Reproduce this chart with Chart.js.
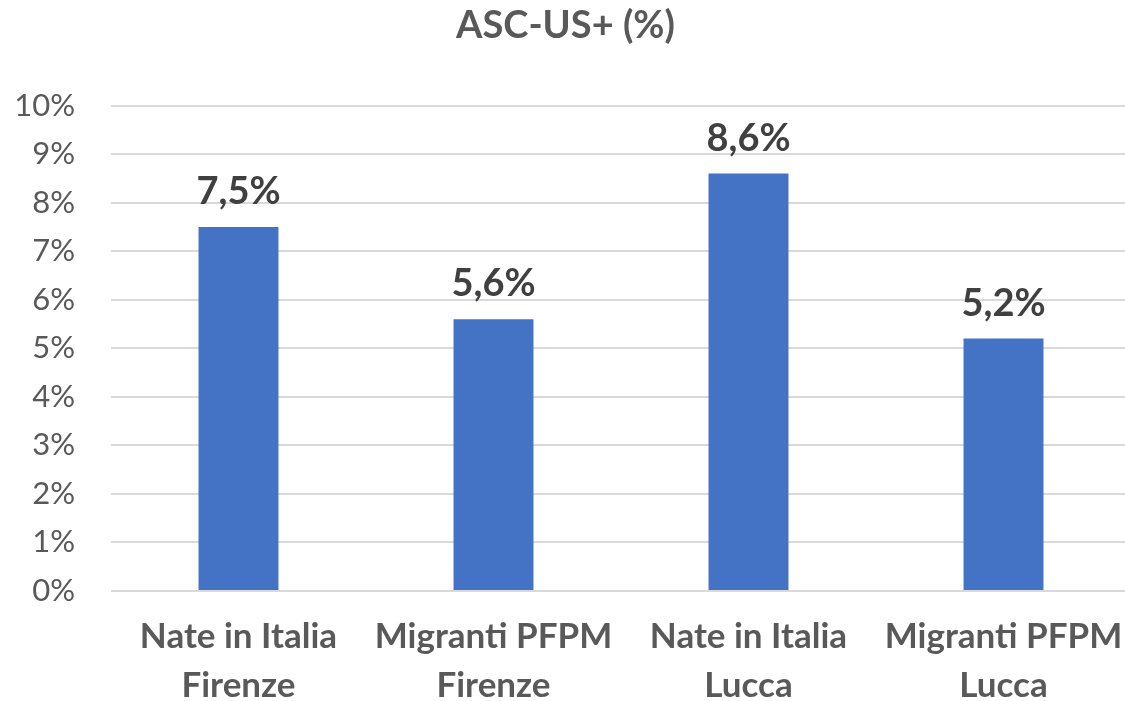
<!DOCTYPE html>
<html>
<head>
<meta charset="utf-8">
<script src="https://cdn.jsdelivr.net/npm/chart.js@4/dist/chart.umd.min.js"></script>
<style>
  html, body { margin: 0; padding: 0; background: #ffffff; overflow: hidden; }
  #wrap { position: relative; width: 1131px; height: 701px; }
</style>
</head>
<body>
<div id="wrap"><canvas id="chart"></canvas></div>
<script>
// Categories (two-line labels) and values in percent
const categories = [
  ['Nate in Italia', 'Firenze'],
  ['Migranti PFPM', 'Firenze'],
  ['Nate in Italia', 'Lucca'],
  ['Migranti PFPM', 'Lucca']
];
const values = [7.5, 5.6, 8.6, 5.2];
const yTicks = [0, 1, 2, 3, 4, 5, 6, 7, 8, 9, 10];
const chartTitle = 'ASC-US+ (%)';

const FONT = 'Lato, "Open Sans", sans-serif';

// Writes each bar's value (Italian decimal comma) above its top
const valueLabels = {
  id: 'valueLabels',
  afterDatasetsDraw(chart) {
    const ctx = chart.ctx;
    const meta = chart.getDatasetMeta(0);
    ctx.save();
    ctx.font = 'bold 38px ' + FONT;
    ctx.fillStyle = '#404040';
    ctx.textAlign = 'center';
    ctx.textBaseline = 'alphabetic';
    meta.data.forEach((bar, i) => {
      const txt = values[i].toFixed(1).replace('.', ',') + '%';
      ctx.fillText(txt, bar.x, bar.y - 23);
    });
    ctx.restore();
  }
};

new Chart(document.getElementById('chart'), {
  type: 'bar',
  data: {
    labels: categories,
    datasets: [{
      data: values,
      backgroundColor: '#4472C4',
      borderWidth: 0,
      barPercentage: 0.627,
      categoryPercentage: 0.5
    }]
  },
  options: {
    responsive: true,
    maintainAspectRatio: false,
    animation: false,
    layout: { padding: { left: 0, right: 0, top: 0, bottom: 0 } },
    plugins: {
      legend: { display: false },
      tooltip: { enabled: false },
      title: {
        display: true,
        text: chartTitle,
        color: '#595959',
        font: { family: FONT, size: 38, weight: 'bold', lineHeight: 1.2 },
        padding: { top: 3, bottom: 57 }
      }
    },
    scales: {
      x: {
        grid: { display: false, drawTicks: false },
        border: { display: false },
        ticks: {
          color: '#595959',
          font: { family: FONT, size: 35, weight: 'bold', lineHeight: 1.38 },
          padding: 22,
          maxRotation: 0,
          autoSkip: false
        },
        afterFit(scale) {
          scale.height = 110;
          scale.paddingLeft = 0;
          scale.paddingRight = 0;
        }
      },
      y: {
        min: 0,
        max: 10,
        afterBuildTicks(scale) {
          scale.ticks = yTicks.map(v => ({ value: v }));
        },
        grid: { color: '#D9D9D9', lineWidth: 2, drawTicks: false },
        border: { display: false },
        ticks: {
          color: '#595959',
          font: { family: FONT, size: 31 },
          padding: 36,
          callback: v => v + '%'
        },
        afterFit(scale) { scale.width = 111; }
      }
    }
  },
  plugins: [valueLabels]
});
</script>
</body>
</html>
